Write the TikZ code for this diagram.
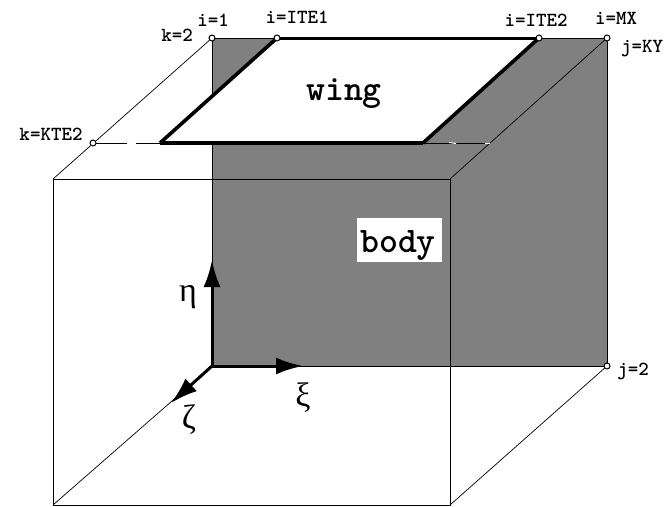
\documentclass[tikz,border=0pt]{standalone}
\usepackage{amsmath}
\usepackage{xcolor}
\usepackage{fontspec}
\usetikzlibrary{arrows.meta}
\definecolor{bodygray}{gray}{0.5}
\newfontfamily\greekfont{Liberation Serif}

\begin{document}
\begin{tikzpicture}[x=1pt,y=-1pt,>={Latex[length=27pt,width=17pt]},
  pt/.style={draw,circle,fill=white,line width=1pt,inner sep=0pt,minimum size=6pt},
  idx/.style={inner sep=0pt,font=\fontsize{20}{20}\selectfont\ttfamily\bfseries},
  big/.style={inner sep=0pt,anchor=base,font=\fontsize{36}{36}\selectfont\ttfamily\bfseries},
  edge/.style={line width=1pt},
  slant/.style={line width=0.7pt},
  wingedge/.style={line width=3.6pt},
  axis/.style={->,line width=3pt},
  gk/.style={inner sep=0pt,font=\fontsize{34}{34}\selectfont\greekfont}]
 \useasboundingbox (0,0) rectangle (668,506);
 \coordinate (ftl) at (53,179); \coordinate (ftr) at (450,179);
 \coordinate (fbl) at (53,505); \coordinate (fbr) at (450,505);
 \coordinate (btl) at (212,38); \coordinate (btr) at (607,38);
 \coordinate (bbl) at (212,366); \coordinate (bbr) at (607,366);
 \coordinate (wtl) at (277,38); \coordinate (wtr) at (539,38);
 \coordinate (wbl) at (160,143); \coordinate (wbr) at (423,143);
 \coordinate (ktel) at (93,143); \coordinate (kter) at (490,143);
 \coordinate (gapa) at (127,143); \coordinate (gapb) at (136,143);
 \coordinate (ticka) at (449,142.5); \coordinate (tickb) at (456,143.5);
 \coordinate (tickc) at (485,143.5); \coordinate (tickd) at (490,143.5);
 \coordinate (xitip) at (303,366); \coordinate (etatip) at (212,260); \coordinate (zetatip) at (171,403);

 \fill[bodygray] (btl)--(btr)--(bbr)--(bbl)--cycle;
 \draw[edge] (btl)--(wtl); \draw[edge] (wtr)--(btr)--(bbr)--(bbl)--(btl);
 \fill[white] (wtl)--(wtr)--(wbr)--(wbl)--cycle;

 \draw[edge] (ftl)--(ftr)--(fbr)--(fbl)--cycle;
 \draw[slant] (btl)--(ftl); \draw[slant] (btr)--(ftr);
 \draw[slant] (bbr)--(fbr); \draw[slant] (bbl)--(fbl);
 \draw[edge] (ktel)--(gapa); \draw[edge] (gapb)--(wbl); \draw[edge] (wbr)--(kter);
 \draw[white,line width=1pt] (ticka)--(tickb); \draw[white,line width=1pt] (tickc)--(tickd);
 \draw[wingedge] (wbl)--(wtl); \draw[line width=3pt] (wtl)--(wtr);
 \draw[wingedge] (wtr)--(wbr); \draw[line width=4pt] (wbr)--(wbl);

 \draw[axis] (bbl)--(xitip);
 \draw[axis] (bbl)--(etatip);
 \draw[axis] (bbl)--(zetatip);

 \node[pt] (p1) at (btl) {}; \node[pt] (p2) at (wtl) {}; \node[pt] (p3) at (wtr) {};
 \node[pt] (p4) at (btr) {}; \node[pt] (p5) at (bbr) {}; \node[pt] (p6) at (ktel) {};

 \node[idx] (i1) at (213,20) {i=1};
 \node[idx] (k2) at (177,35) {k=2};
 \node[idx] (ite1) at (297,17) {i=ITE1};
 \node[idx] (kte2) at (51,134) {k=KTE2};
 \node[idx] (ite2) at (536,20) {i=ITE2};
 \node[idx] (imx) at (616,18) {i=MX};
 \node[idx] (jky) at (642,49) {j=KY};
 \node[idx] (j2) at (633,371) {j=2};
 \node[big] (wing) at (344,100) {wing};
 \fill[white] (357,218) rectangle (442,262);
 \node[big] (body) at (398,252) {body};
 \node[gk] (eta) at (188,297) {η};
 \node[gk] (xi) at (303,398) {ξ};
 \node[gk] (zeta) at (189,420) {ζ};
\end{tikzpicture}
\end{document}
